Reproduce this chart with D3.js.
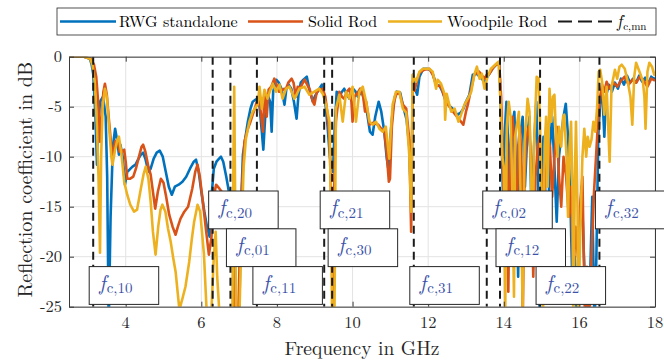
<!DOCTYPE html>
<html>
<head>
<meta charset="utf-8">
<script src="https://cdn.jsdelivr.net/npm/d3@7"></script>
<style>
  body { margin: 0; background: #fff; }
</style>
</head>
<body>
<div id="chart"></div>
<script>
// ticks
const xTicks = [4, 6, 8, 10, 12, 14, 16, 18];
const yTicks = [0, -5, -10, -15, -20, -25];

// legend entries
const seriesNames = ["RWG standalone", "Solid Rod", "Woodpile Rod"];
const seriesColors = ["#0072BD", "#D95319", "#EDB120"];

// cutoff frequencies (GHz) of the TE_mn modes
const cutoffModes = ["10", "20", "01", "11", "21", "30", "31", "02", "12", "22", "32"];
const cutoffFreqs = [3.14, 6.30, 6.77, 7.47, 9.25, 9.46, 11.62, 13.55, 13.90, 14.96, 16.53];

// [frequency GHz, reflection dB]
const rwgData = [
  [2.5,0],[2.9,0],[3.05,-0.2],[3.1,-0.8],[3.14,-1.7],[3.2,-6],[3.24,-10.8],[3.27,-7],[3.32,-4.5],[3.4,-4],[3.47,-6],
  [3.51,-12],[3.55,-27],[3.6,-16],[3.66,-9],[3.72,-7.2],[3.78,-8.5],[3.82,-9.8],[3.86,-8.8],[3.92,-10],[3.98,-12.8],
  [4.04,-11.5],[4.1,-11.3],[4.18,-11],[4.26,-10.8],[4.34,-10.2],[4.4,-9.8],[4.46,-9.6],[4.52,-10.2],[4.6,-11.5],
  [4.66,-11.2],[4.74,-10.2],[4.82,-9.6],[4.9,-9.4],[4.98,-10],[5.06,-11.5],[5.14,-13],[5.22,-13.8],[5.3,-13],
  [5.4,-12.8],[5.5,-12.5],[5.6,-12],[5.7,-11.2],[5.8,-10.5],[5.86,-10.3],[5.93,-11.5],[6.0,-13.5],[6.08,-15.5],
  [6.15,-17],[6.22,-18],[6.27,-14],[6.33,-11.2],[6.4,-10.5],[6.47,-10.2],[6.52,-10],[6.58,-10.5],[6.66,-12],
  [6.73,-13.5],[6.79,-15],[6.86,-20],[6.92,-27],[7.0,-27],[7.05,-15],[7.1,-9.8],[7.17,-8],[7.23,-6.5],[7.3,-5.2],
  [7.36,-4.5],[7.43,-4.3],[7.49,-4.2],[7.54,-5],[7.6,-7.5],[7.64,-9.3],[7.69,-6],[7.75,-3.8],[7.82,-4.5],[7.86,-7.5],
  [7.9,-3.5],[7.98,-2.3],[8.05,-2.6],[8.12,-3.2],[8.2,-4.8],[8.25,-3.2],[8.31,-2.8],[8.38,-3.2],[8.45,-4.5],
  [8.52,-6.2],[8.57,-3.8],[8.63,-2.6],[8.7,-2.3],[8.79,-2.0],[8.87,-3.5],[8.95,-4.5],[9.0,-4],[9.06,-3.6],
  [9.12,-3.2],[9.19,-2.8],[9.24,-3.8],[9.29,-5],[9.34,-7],[9.39,-9.5],[9.43,-11],[9.48,-11.5],[9.53,-7],[9.58,-3.5],
  [9.65,-4],[9.72,-3.5],[9.78,-3.2],[9.85,-3.8],[9.92,-4.2],[10.01,-3.2],[10.08,-3.5],[10.14,-4],[10.2,-3.7],
  [10.27,-3.5],[10.33,-4.8],[10.38,-5.5],[10.46,-7.5],[10.53,-7.8],[10.6,-6],[10.69,-4.5],[10.76,-5.5],
  [10.84,-7.5],[10.9,-10],[10.95,-11.3],[11.0,-8],[11.06,-5.5],[11.12,-4],[11.17,-3.5],[11.26,-3.6],[11.34,-5],
  [11.43,-6.3],[11.5,-9],[11.55,-14.5],[11.6,-1.8],[11.65,-3.2],[11.71,-3.8],[11.77,-2],[11.87,-1.2],[11.96,-1.2],
  [12.05,-1.3],[12.13,-1.8],[12.21,-2.8],[12.3,-2.9],[12.38,-3.5],[12.47,-4.5],[12.56,-4.9],[12.65,-5.2],
  [12.72,-5.6],[12.78,-5.8],[12.86,-5.6],[12.93,-5.2],[13.0,-4.5],[13.09,-3.8],[13.18,-1.8],[13.28,-1.7],
  [13.36,-2],[13.49,-2.5],[13.55,-2.1],[13.62,-1.7],[13.7,-1.2],[13.8,-0.8],[13.88,-0.7],
  [13.93,-6],[13.98,-14],[14.02,-8],[14.07,-4.5],[14.12,-9],[14.17,-18],[14.22,-7],[14.28,-5.5],[14.33,-12],
  [14.38,-22],[14.43,-8],[14.5,-6],[14.56,-13],[14.62,-8],[14.68,-6],[14.74,-17],[14.8,-9],[14.86,-4.5],
  [14.9,-10],[14.95,-27],[15.0,-12],[15.05,-8],[15.1,-14],[15.16,-20],[15.22,-9],[15.28,-6],[15.34,-11],
  [15.4,-16.5],[15.46,-10],[15.52,-8],[15.58,-6],[15.64,-4.7],[15.7,-8],[15.76,-14],[15.82,-24],[15.88,-20],
  [15.94,-27],[16.0,-18],[16.06,-13],[16.12,-20],[16.2,-27],[16.27,-24],[16.34,-14],[16.4,-27],[16.45,-20],
  [16.5,-8],[16.55,-4.5],[16.6,-3.2],[16.66,-8],[16.7,-4],[16.78,-2.8],[16.86,-3.5],[16.94,-2.6],[17.02,-3.2],
  [17.1,-2.2],[17.18,-2.8],[17.26,-1.9],[17.34,-2.6],[17.42,-2.2],[17.5,-2.6],[17.58,-1.9],[17.66,-2.5],
  [17.74,-2.1],[17.82,-2.7],[17.9,-2.0],[17.97,-2.2],[18.0,-2.1]
];

const solidData = [
  [2.5,0],[2.9,0],[3.08,-0.2],[3.16,-0.8],[3.22,-2],[3.27,-4.5],[3.32,-8.5],[3.36,-6],[3.41,-3.5],[3.45,-2.7],
  [3.5,-3.8],[3.56,-6.5],[3.62,-9],[3.66,-9.8],[3.72,-8.5],[3.78,-8.3],[3.84,-9.5],[3.9,-9.5],[3.96,-9.3],
  [4.0,-10.5],[4.04,-12.2],[4.12,-12.2],[4.2,-12],[4.27,-11.2],[4.35,-10],[4.42,-9],[4.46,-8.8],[4.52,-9.5],
  [4.6,-11],[4.66,-11.8],[4.72,-13.5],[4.78,-15.2],[4.85,-13.5],[4.93,-12.2],[5.0,-12.6],[5.07,-14],[5.15,-15.8],
  [5.24,-17],[5.32,-17.8],[5.38,-17],[5.45,-16.2],[5.55,-15.5],[5.65,-15],[5.76,-13.2],[5.84,-11.5],[5.9,-10.8],
  [5.96,-12],[6.04,-14.5],[6.12,-17.2],[6.2,-19.8],[6.27,-18],[6.33,-14],[6.39,-12.8],[6.48,-13.2],[6.6,-13.8],
  [6.72,-15],[6.79,-16.5],[6.84,-20],[6.87,-27],[6.97,-27],[7.05,-14.8],[7.14,-8.5],[7.23,-7.2],[7.3,-6.5],
  [7.36,-5.8],[7.43,-5],[7.49,-4.2],[7.54,-4.6],[7.58,-5.8],[7.63,-7.5],[7.67,-3.5],[7.73,-6],[7.78,-3.3],
  [7.85,-3],[7.93,-2.2],[8.0,-2.9],[8.06,-3.5],[8.12,-3.4],[8.2,-3.2],[8.24,-3.2],[8.3,-2.6],[8.39,-2.2],
  [8.44,-2.6],[8.5,-4],[8.55,-3],[8.62,-3.1],[8.73,-2.3],[8.8,-2.8],[8.87,-3.3],[8.95,-4.5],[8.99,-4.8],
  [9.05,-3.6],[9.12,-3.3],[9.21,-3.2],[9.28,-4],[9.33,-5.5],[9.39,-8.2],[9.44,-15],[9.48,-27],[9.52,-12],
  [9.56,-6.5],[9.65,-3.5],[9.72,-4],[9.78,-4.2],[9.85,-3.5],[9.92,-3.2],[9.97,-4.5],[10.0,-6.5],[10.05,-4],
  [10.12,-3.7],[10.2,-3.2],[10.28,-4],[10.33,-5.5],[10.36,-4.5],[10.4,-5.5],[10.45,-6.8],[10.55,-6.6],
  [10.68,-6.8],[10.76,-7.2],[10.84,-7.5],[10.9,-9.5],[10.96,-12.5],[10.99,-12.2],[11.04,-7],[11.1,-4.5],
  [11.15,-3.8],[11.24,-3.6],[11.33,-4.8],[11.42,-5.2],[11.5,-8.3],[11.55,-17.5],[11.59,-2.5],[11.64,-3.4],
  [11.7,-2.5],[11.77,-1.6],[11.9,-1.3],[12.03,-1.2],[12.12,-1.8],[12.21,-2.8],[12.34,-3],[12.47,-4.5],
  [12.62,-5.3],[12.72,-5.8],[12.87,-6.5],[12.93,-6.8],[13.0,-5.5],[13.05,-4.8],[13.12,-3.5],[13.22,-1.8],
  [13.35,-1.5],[13.49,-2.2],[13.55,-1.8],[13.62,-1.7],[13.72,-1.1],[13.8,-0.8],[13.88,-0.7],
  [13.93,-4],[13.98,-12],[14.03,-16],[14.08,-10],[14.12,-23.5],[14.17,-9],[14.23,-6],[14.28,-9],[14.33,-20],
  [14.38,-9],[14.43,-7],[14.47,-11],[14.5,-27],[14.55,-12],[14.6,-8],[14.66,-7],[14.72,-10],[14.78,-22],
  [14.84,-12],[14.9,-9],[14.95,-8],[15.0,-12],[15.05,-22],[15.1,-10],[15.16,-8],[15.22,-9],[15.28,-14],
  [15.34,-10],[15.4,-7],[15.46,-12],[15.52,-15],[15.58,-10],[15.65,-12],[15.72,-16],[15.78,-13],[15.84,-22],
  [15.9,-17],[15.96,-20],[16.02,-15],[16.08,-12],[16.15,-27],[16.2,-21],[16.26,-27],[16.32,-20],[16.38,-14],
  [16.44,-10],[16.5,-6],[16.55,-4],[16.6,-2.8],[16.66,-3.5],[16.72,-2.5],[16.8,-3.2],[16.9,-2.6],[17.0,-3.0],
  [17.1,-2.4],[17.2,-2.0],[17.3,-2.8],[17.4,-2.3],[17.5,-2.6],[17.6,-2.0],[17.7,-2.4],[17.8,-3.0],[17.9,-2.2],
  [18.0,-2.4]
];

const woodpileData = [
  [2.5,0],[2.9,0],[3.06,-0.2],[3.12,-0.8],[3.18,-2.5],[3.24,-7],[3.28,-12],[3.32,-19.6],[3.35,-10],[3.39,-5],
  [3.45,-3.2],[3.5,-4],[3.56,-7],[3.62,-10],[3.65,-10.8],[3.72,-9.3],[3.78,-8.3],[3.82,-8],[3.88,-9.5],
  [3.96,-12.5],[4.04,-13.8],[4.12,-14.8],[4.22,-15.5],[4.3,-15.3],[4.4,-13.2],[4.47,-11.8],[4.53,-11],
  [4.6,-12.2],[4.66,-14.5],[4.72,-17.5],[4.79,-19.8],[4.86,-17],[4.92,-15.3],[4.97,-14.8],[5.05,-15.5],
  [5.12,-17.2],[5.19,-18.5],[5.26,-20.2],[5.32,-21.5],[5.38,-23.8],[5.42,-25.3],[5.5,-24.2],[5.58,-23],
  [5.68,-20.5],[5.75,-18.2],[5.81,-16.5],[5.9,-14.8],[5.97,-15.5],[6.07,-19.8],[6.16,-27],[6.26,-26],
  [6.33,-20],[6.38,-17.5],[6.42,-22],[6.5,-27],[6.82,-27],[6.85,-10],[6.87,-3],[6.89,-12],[6.92,-27],[7.0,-27],
  [7.06,-18],[7.12,-11],[7.18,-8.2],[7.27,-6.5],[7.36,-5.5],[7.45,-5],[7.49,-4.8],[7.54,-3],[7.6,-5.2],
  [7.67,-3.3],[7.75,-4.2],[7.81,-3.5],[7.89,-2.7],[7.98,-3.5],[8.07,-2.8],[8.15,-4.2],[8.24,-3.2],[8.33,-3],
  [8.4,-3.6],[8.46,-4.2],[8.52,-3.8],[8.59,-3.2],[8.73,-3],[8.86,-3.8],[8.99,-3.5],[9.12,-3.2],[9.21,-3.7],
  [9.3,-4.8],[9.39,-6.5],[9.43,-15],[9.46,-27],[9.52,-27],[9.56,-5.2],[9.65,-3.8],[9.74,-6.5],[9.83,-3.5],
  [9.92,-4.2],[10.0,-3],[10.09,-6.5],[10.18,-3.5],[10.27,-3],[10.33,-4],[10.36,-4.5],[10.45,-6.5],[10.53,-6.8],
  [10.62,-6.5],[10.71,-7.2],[10.8,-7.5],[10.88,-7],[10.97,-10.2],[11.02,-7],[11.06,-4.8],[11.15,-3.5],
  [11.24,-3.5],[11.33,-5.2],[11.42,-5.6],[11.5,-9.8],[11.55,-15.5],[11.59,-1.8],[11.68,-2.5],[11.77,-1.5],
  [11.86,-1.2],[11.94,-1.2],[12.03,-1.2],[12.12,-1.5],[12.21,-3.2],[12.25,-2.3],[12.34,-2.7],[12.43,-3.7],
  [12.45,-6.3],[12.49,-3.7],[12.56,-4.8],[12.61,-5.5],[12.7,-5.2],[12.8,-6.5],[12.87,-5.8],[12.96,-4.8],
  [13.05,-4.2],[13.14,-3.5],[13.22,-1.8],[13.29,-1.0],[13.36,-2.2],[13.42,-1.7],[13.49,-3.2],[13.57,-2],
  [13.66,-1.2],[13.8,-0.7],[13.86,-0.5],
  [13.92,-5],[13.96,-10],[14.0,-11],[14.04,-25],[14.08,-7],[14.13,-4.5],[14.18,-6],[14.22,-12],[14.27,-24],
  [14.3,-8],[14.34,-7],[14.4,-5.5],[14.45,-15],[14.5,-25],[14.55,-8.5],[14.6,-6],[14.63,-4.2],[14.68,-5.5],
  [14.72,-12],[14.76,-20],[14.8,-9],[14.87,-2],[14.92,-2.2],[14.96,-7],[15.0,-14],[15.04,-25],[15.08,-9],
  [15.12,-6],[15.16,-13],[15.21,-3.2],[15.26,-6.5],[15.3,-4],[15.34,-3.8],[15.38,-8],[15.42,-10],[15.46,-7],
  [15.52,-9],[15.57,-6],[15.6,-5.8],[15.66,-10],[15.7,-16],[15.74,-9],[15.78,-6.5],[15.82,-14],[15.84,-27],
  [15.88,-12],[15.91,-6.5],[15.95,-15],[15.97,-27],[16.02,-18],[16.08,-10],[16.13,-7.2],[16.18,-10],
  [16.22,-8],[16.27,-9],[16.32,-8.3],[16.37,-6.5],[16.42,-7.5],[16.47,-5],[16.51,-1.5],[16.55,-1.3],
  [16.6,-2.5],[16.66,-5.8],[16.72,-3],[16.8,-10.5],[16.85,-3],[16.94,-1.3],[17.0,-2.2],[17.06,-1.0],
  [17.12,-0.8],[17.2,-1.2],[17.28,-2.5],[17.35,-4],[17.4,-6.8],[17.45,-2],[17.5,-0.6],[17.56,-1.2],
  [17.62,-1.8],[17.68,-2.5],[17.72,-4],[17.75,-7.2],[17.8,-1.5],[17.85,-0.6],[17.92,-1.0],[17.98,-1.8],
  [18.0,-1.5]
];

const seriesData = [rwgData, solidData, woodpileData];

const width = 664, height = 362;
const margin = { top: 56.7, right: 9, bottom: 55.3, left: 69 };
const plotW = width - margin.left - margin.right;
const plotH = height - margin.top - margin.bottom;
const FONT = '"Latin Modern Roman", "Liberation Serif", serif';

const svg = d3.select("#chart").append("svg")
  .attr("width", width)
  .attr("height", height);

// every text gets the LaTeX-like font set directly
function txt(parent) {
  return parent.append("text").style("font-family", FONT);
}

const x = d3.scaleLinear().domain([2.5, 18]).range([margin.left, margin.left + plotW]);
const y = d3.scaleLinear().domain([-25, 0]).range([margin.top + plotH, margin.top]);

svg.append("clipPath").attr("id", "plotclip")
  .append("rect")
  .attr("x", margin.left).attr("y", margin.top)
  .attr("width", plotW).attr("height", plotH);

// grid
const grid = svg.append("g");
grid.selectAll(".gx").data(xTicks).enter().append("line")
  .attr("x1", d => x(d)).attr("x2", d => x(d))
  .attr("y1", margin.top).attr("y2", margin.top + plotH)
  .attr("stroke", "#e3e3e3").attr("stroke-width", 1);
grid.selectAll(".gy").data(yTicks).enter().append("line")
  .attr("x1", margin.left).attr("x2", margin.left + plotW)
  .attr("y1", d => y(d)).attr("y2", d => y(d))
  .attr("stroke", "#e3e3e3").attr("stroke-width", 1);

// curves
const line = d3.line().x(d => x(d[0])).y(d => y(d[1]));
const curves = svg.append("g").attr("clip-path", "url(#plotclip)");
seriesData.forEach((data, i) => {
  curves.append("path")
    .datum(data)
    .attr("d", line)
    .attr("fill", "none")
    .attr("stroke", seriesColors[i])
    .attr("stroke-width", 2.6)
    .attr("stroke-linejoin", "round");
});

// cutoff lines
curves.selectAll(".cut").data(cutoffFreqs).enter().append("line")
  .attr("x1", d => x(d)).attr("x2", d => x(d))
  .attr("y1", margin.top).attr("y2", margin.top + plotH)
  .attr("stroke", "#1a1a1a").attr("stroke-width", 2)
  .attr("stroke-dasharray", "8,5");

// axes (ticks point inwards on all sides)
const axisColor = "#3a3a3a";
const axB = svg.append("g").attr("transform", `translate(0,${margin.top + plotH})`)
  .call(d3.axisBottom(x).tickValues(xTicks).tickSize(-5).tickSizeOuter(0).tickFormat(""));
const axT = svg.append("g").attr("transform", `translate(0,${margin.top})`)
  .call(d3.axisTop(x).tickValues(xTicks).tickSize(-5).tickSizeOuter(0).tickFormat(""));
const axL = svg.append("g").attr("transform", `translate(${margin.left},0)`)
  .call(d3.axisLeft(y).tickValues(yTicks).tickSize(-5).tickSizeOuter(0).tickFormat(""));
const axR = svg.append("g").attr("transform", `translate(${margin.left + plotW},0)`)
  .call(d3.axisRight(y).tickValues(yTicks).tickSize(-5).tickSizeOuter(0).tickFormat(""));
[axB, axT, axL, axR].forEach(a => {
  a.selectAll("path,line").attr("stroke", axisColor).attr("stroke-width", 1);
  a.selectAll("text").remove();
});

// tick labels
xTicks.forEach(d => {
  txt(svg).attr("x", x(d)).attr("y", 328)
    .attr("text-anchor", "middle")
    .attr("font-size", 16.5).attr("fill", "#262626")
    .text(d);
});
yTicks.forEach(d => {
  txt(svg).attr("x", margin.left - 7).attr("y", y(d) + 5.5)
    .attr("text-anchor", "end")
    .attr("font-size", 16.5).attr("fill", "#262626")
    .text(d);
});

// axis titles
txt(svg)
  .attr("x", margin.left + plotW / 2).attr("y", 355)
  .attr("text-anchor", "middle").attr("font-size", 19.5).attr("fill", "#262626")
  .text("Frequency in GHz");
txt(svg)
  .attr("transform", `translate(32,${margin.top + plotH / 2 - 2}) rotate(-90)`)
  .attr("text-anchor", "middle").attr("font-size", 20).attr("fill", "#262626")
  .text("Reflection coefficient in dB");

// mode labels
const boxW = 69.5, boxH = 37.8, boxTop = 191;
const labels = svg.append("g");
cutoffFreqs.forEach((f, i) => {
  const row = (i + 2) % 3;
  const bx = x(f) - 4, by = boxTop + row * boxH;
  labels.append("rect")
    .attr("x", bx).attr("y", by).attr("width", boxW).attr("height", boxH)
    .attr("fill", "#fff").attr("stroke", "#262626").attr("stroke-width", 1);
  const t = txt(labels)
    .attr("x", bx + 10).attr("y", by + 23)
    .attr("fill", "#3b52a8").attr("font-size", 21);
  t.append("tspan").attr("font-style", "italic").text("f");
  t.append("tspan").attr("font-size", 15).attr("dx", 1).attr("dy", 3.5).text("c," + cutoffModes[i]);
});

// legend
const leg = svg.append("g");
leg.append("rect")
  .attr("x", 57).attr("y", 8).attr("width", 599).attr("height", 27)
  .attr("fill", "#fff").attr("stroke", "#262626").attr("stroke-width", 0.8);
const legY = 21.5;
const legItems = [
  { x0: 60, x1: 116, tx: 119, color: seriesColors[0], label: seriesNames[0] },
  { x0: 248, x1: 303, tx: 308, color: seriesColors[1], label: seriesNames[1] },
  { x0: 388, x1: 442, tx: 447, color: seriesColors[2], label: seriesNames[2] }
];
legItems.forEach(it => {
  leg.append("line").attr("x1", it.x0).attr("x2", it.x1).attr("y1", legY).attr("y2", legY)
    .attr("stroke", it.color).attr("stroke-width", 2.6);
  txt(leg).attr("x", it.tx).attr("y", legY + 5.5)
    .attr("font-size", 16).attr("fill", "#000").text(it.label);
});
leg.append("line").attr("x1", 558).attr("x2", 612).attr("y1", legY).attr("y2", legY)
  .attr("stroke", "#1a1a1a").attr("stroke-width", 2).attr("stroke-dasharray", "14,6");
const lt = txt(leg).attr("x", 617).attr("y", legY + 5).attr("font-size", 17).attr("fill", "#000");
lt.append("tspan").attr("font-style", "italic").text("f");
lt.append("tspan").attr("font-size", 11).attr("dx", 1).attr("dy", 3).text("c,mn");
</script>
</body>
</html>
